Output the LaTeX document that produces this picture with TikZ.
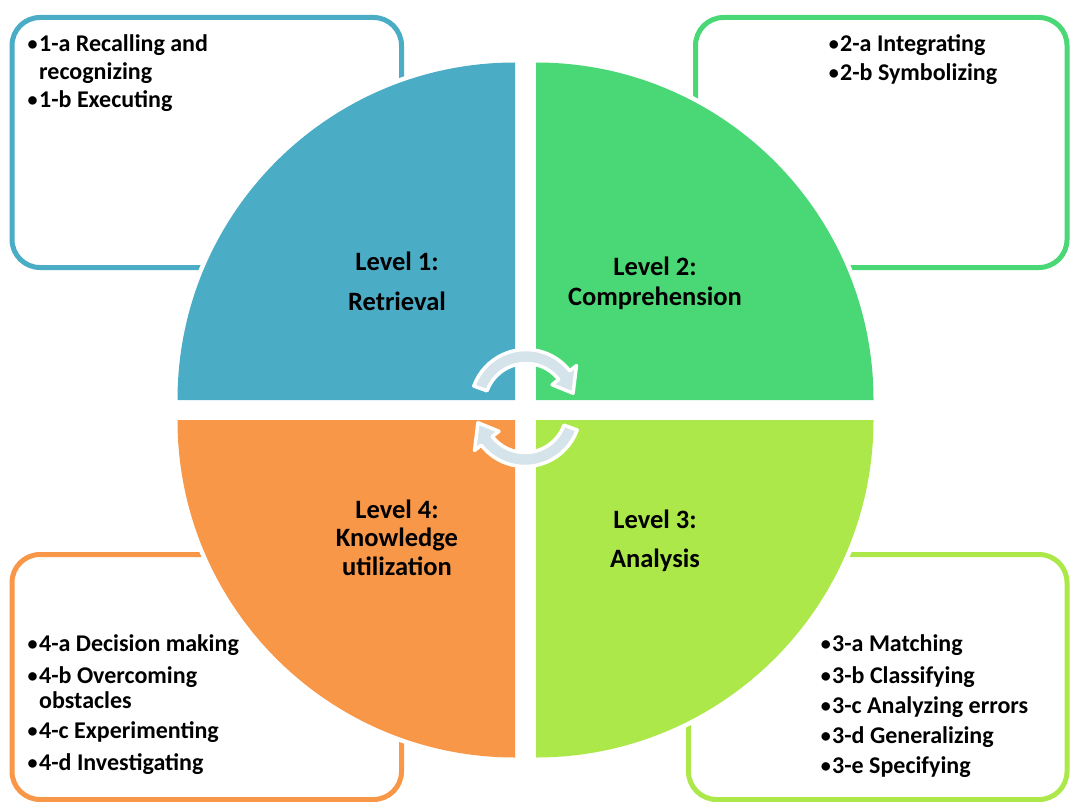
\documentclass[tikz,border=0pt]{standalone}
\usepackage{fontspec}
\setmainfont{Carlito}
\usetikzlibrary{calc}
\definecolor{qblue}{HTML}{4BACC6}
\definecolor{qgreen}{HTML}{4AD775}
\definecolor{qlime}{HTML}{ADE84B}
\definecolor{qorange}{HTML}{F79747}
\definecolor{cycfill}{HTML}{D5E3EA}
% small bullet hung to the left of an item
\newcommand{\itembullet}{\llap{\raisebox{1pt}{\fontsize{20}{20}\selectfont •}\hspace{1.5pt}}}
\begin{document}
\begin{tikzpicture}[x=1pt,y=-1pt,
  item/.style={anchor=base west, inner sep=0pt, font=\bfseries\fontsize{24}{29}\selectfont},
  lvl/.style={anchor=base, inner sep=0pt, font=\bfseries\fontsize{26.5}{30}\selectfont},
  frame/.style={line width=5pt, rounded corners=28pt},
  halo/.style={draw=white, line width=9pt, line join=round},
  cyc/.style={fill=cycfill, draw=white, line width=3.5pt, line join=round}]
\useasboundingbox (0,0) rectangle (1070,802);

% outlined boxes for the sub-skills
\draw[frame, qblue]   (12,17.5)    rectangle (401.5,267.5);
\draw[frame, qgreen]  (695.5,17.5) rectangle (1067,267.5);
\draw[frame, qorange] (12,554.5)   rectangle (401.5,799.5);
\draw[frame, qlime]   (688.5,554.5) rectangle (1067,799.5);

% four quarter discs with a white halo
\foreach \cx/\cy/\a in {515/400/180, 536/400/270, 536/420/0, 515/420/90}
  \draw[halo] (\cx,\cy) -- ++(\a:337.5) arc[start angle=\a, delta angle=90, radius=337.5] -- cycle;
\foreach \cx/\cy/\a/\c in {515/400/180/qblue, 536/400/270/qgreen, 536/420/0/qlime, 515/420/90/qorange}
  \fill[\c] (\cx,\cy) -- ++(\a:337.5) arc[start angle=\a, delta angle=90, radius=337.5] -- cycle;

% cycle arrows in the middle
\coordinate (uc) at (526,405);
\coordinate (lc) at (525,411);
\draw[cyc] ($(uc)+(200:55.5)$) arc[start angle=200, end angle=322, radius=55.5]
  -- ($(uc)+(322:64)$) -- ($(uc)+(346:48.5)$) -- ($(uc)+(322:33)$)
  -- ($(uc)+(322:41.5)$) arc[start angle=322, end angle=200, radius=41.5] -- cycle;
\draw[cyc] ($(lc)+(20:55.5)$) arc[start angle=20, end angle=142, radius=55.5]
  -- ($(lc)+(142:64)$) -- ($(lc)+(166:48.5)$) -- ($(lc)+(142:33)$)
  -- ($(lc)+(142:41.5)$) arc[start angle=142, end angle=20, radius=41.5] -- cycle;

% level titles
\node[lvl] (l1a) at (397,270) {Level 1:};
\node[lvl] (l1b) at (397,310) {Retrieval};
\node[lvl] (l2a) at (655,275) {Level 2:};
\node[lvl] (l2b) at (655,305) {Comprehension};
\node[lvl] (l3a) at (655,528) {Level 3:};
\node[lvl] (l3b) at (655,567) {Analysis};
\node[lvl] (l4a) at (397,518) {Level 4:};
\node[lvl] (l4b) at (397,546) {Knowledge};
\node[lvl] (l4c) at (397,575) {utilization};

% sub-skill lists
\node[item] (s1a) at (39,51.5) {\itembullet 1-a Recalling and};
\node[item] (s1w) at (39,80)   {recognizing};
\node[item] (s1b) at (39,108)  {\itembullet 1-b Executing};

\node[item] (s2a) at (840,52) {\itembullet 2-a Integrating};
\node[item] (s2b) at (840,81) {\itembullet 2-b Symbolizing};

\node[item] (s3a) at (832,651.7) {\itembullet 3-a Matching};
\node[item] (s3b) at (832,683.3) {\itembullet 3-b Classifying};
\node[item] (s3c) at (832,713.3) {\itembullet 3-c Analyzing errors};
\node[item] (s3d) at (832,743.3) {\itembullet 3-d Generalizing};
\node[item] (s3e) at (832,773.3) {\itembullet 3-e Specifying};

\node[item] (s4a) at (39,651.7) {\itembullet 4-a Decision making};
\node[item] (s4b) at (39,683.3) {\itembullet 4-b Overcoming};
\node[item] (s4w) at (39,708.3) {obstacles};
\node[item] (s4c) at (39,738.3) {\itembullet 4-c Experimenting};
\node[item] (s4d) at (39,770)   {\itembullet 4-d Investigating};
\end{tikzpicture}
\end{document}
